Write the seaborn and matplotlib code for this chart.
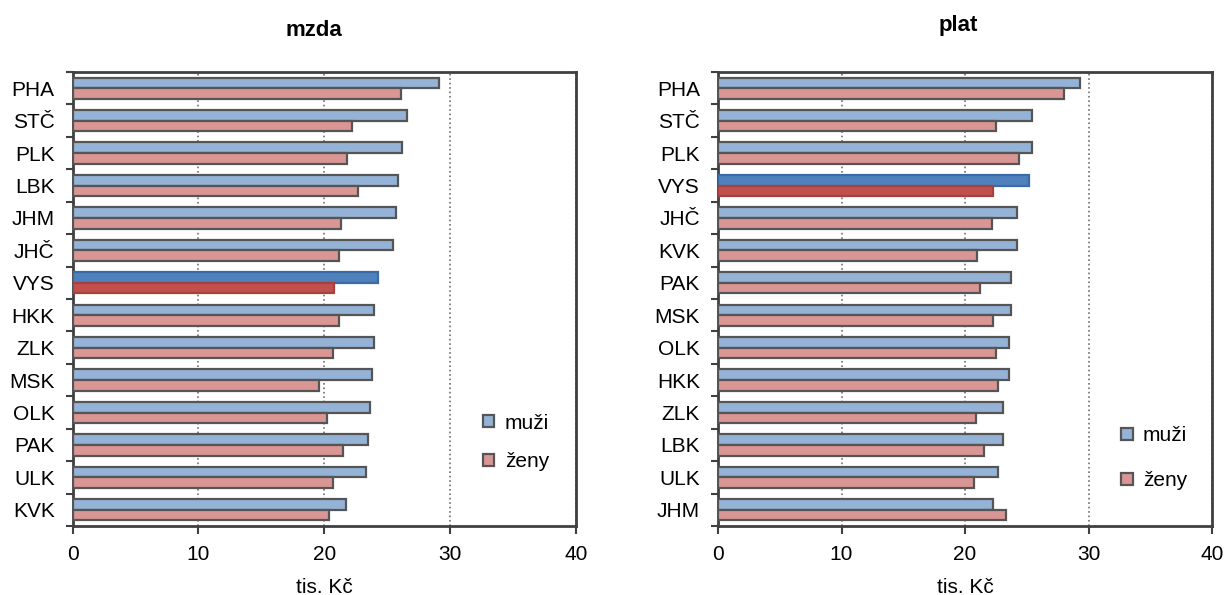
import pandas as pd
import matplotlib
matplotlib.use("Agg")
import matplotlib.pyplot as plt
import seaborn as sns

# kraje a hodnoty (tis. Kč) - mzdová sféra
kraje_mzda = ["PHA", "STČ", "PLK", "LBK", "JHM", "JHČ", "VYS", "HKK",
              "ZLK", "MSK", "OLK", "PAK", "ULK", "KVK"]
muzi_mzda = [29.1, 26.6, 26.15, 25.85, 25.7, 25.5, 24.3, 23.95,
             23.95, 23.8, 23.65, 23.5, 23.35, 21.75]
zeny_mzda = [26.1, 22.25, 21.8, 22.7, 21.3, 21.15, 20.75, 21.15,
             20.7, 19.6, 20.2, 21.5, 20.7, 20.35]

# platová sféra
kraje_plat = ["PHA", "STČ", "PLK", "VYS", "JHČ", "KVK", "PAK", "MSK",
              "OLK", "HKK", "ZLK", "LBK", "ULK", "JHM"]
muzi_plat = [29.3, 25.45, 25.45, 25.2, 24.2, 24.2, 23.75, 23.75,
             23.55, 23.55, 23.1, 23.1, 22.65, 22.3]
zeny_plat = [28.0, 22.5, 24.4, 22.3, 22.2, 21.0, 21.2, 22.3,
             22.5, 22.65, 20.9, 21.55, 20.7, 23.3]

pohlavi = ["muži", "ženy"]
barvy = {"muži": "#95B3D7", "ženy": "#D99694"}
barvy_vys = {"muži": ("#4F81BD", "#3A6BA8"), "ženy": ("#C0504D", "#A8403D")}

sns.set_style("white")
plt.rcParams["font.family"] = ["Liberation Sans", "DejaVu Sans"]
plt.rcParams["font.size"] = 15
plt.rcParams["text.color"] = "black"
plt.rcParams["xtick.labelcolor"] = "black"
plt.rcParams["ytick.labelcolor"] = "black"
plt.rcParams["axes.labelcolor"] = "black"


def graf(ax, kraje, muzi, zeny, leg_y, leg_spacing):
    df = pd.DataFrame({
        "kraj": kraje * 2,
        "hodnota": muzi + zeny,
        "pohlavi": ["muži"] * len(kraje) + ["ženy"] * len(kraje),
    })
    sns.barplot(data=df, x="hodnota", y="kraj", hue="pohlavi", hue_order=pohlavi,
                order=kraje, orient="h", palette=barvy, saturation=1, width=0.66,
                edgecolor="#555555", linewidth=1.6, ax=ax, zorder=3)

    # zvýraznit Vysočinu
    i = kraje.index("VYS")
    for cont, p in zip(ax.containers, pohlavi):
        cont.patches[i].set_facecolor(barvy_vys[p][0])
        cont.patches[i].set_edgecolor(barvy_vys[p][1])

    ax.set_xlim(0, 40)
    ax.set_xticks([0, 10, 20, 30, 40])
    ax.set_ylim(len(kraje) - 0.5, -0.5)
    ax.set_yticks(range(len(kraje)))
    ax.set_yticks([k - 0.5 for k in range(len(kraje) + 1)], minor=True)
    ax.tick_params(axis="y", which="major", length=0, pad=13, labelsize=15)
    ax.tick_params(axis="y", which="minor", length=5, width=1.5, color="#404040", left=True)
    ax.tick_params(axis="x", length=6, width=1.5, color="#404040", pad=8, labelsize=15, bottom=True)
    ax.xaxis.grid(True, linestyle=":", color="#707070", linewidth=1.2, zorder=0)
    ax.set_axisbelow(True)
    for s in ax.spines.values():
        s.set_color("#404040")
        s.set_linewidth(2)
    ax.set_ylabel("")
    ax.set_xlabel("tis. Kč", fontsize=15, labelpad=10)

    handles, labels = ax.get_legend_handles_labels()
    ax.get_legend().remove()
    ax.legend(handles, labels, loc="center left", bbox_to_anchor=(0.795, leg_y),
              frameon=False, handlelength=0.55, handleheight=0.55, borderpad=0,
              handletextpad=0.5, labelspacing=leg_spacing, fontsize=15)


fig = plt.figure(figsize=(12.24, 5.95), dpi=100)
ax1 = fig.add_axes([72.7 / 1224, 1 - 526 / 595, 503 / 1224, 454 / 595])
ax2 = fig.add_axes([718 / 1224, 1 - 526 / 595, 494 / 1224, 454 / 595])

graf(ax1, kraje_mzda, muzi_mzda, zeny_mzda, 0.184, 0.95)
graf(ax2, kraje_plat, muzi_plat, zeny_plat, 0.149, 1.25)

fig.text(314 / 1224, 1 - 36 / 595, "mzda", ha="center", va="baseline",
         fontsize=16, fontweight="bold")
fig.text(958 / 1224, 1 - 31 / 595, "plat", ha="center", va="baseline",
         fontsize=16, fontweight="bold")

fig.savefig("out.png", dpi=100)
